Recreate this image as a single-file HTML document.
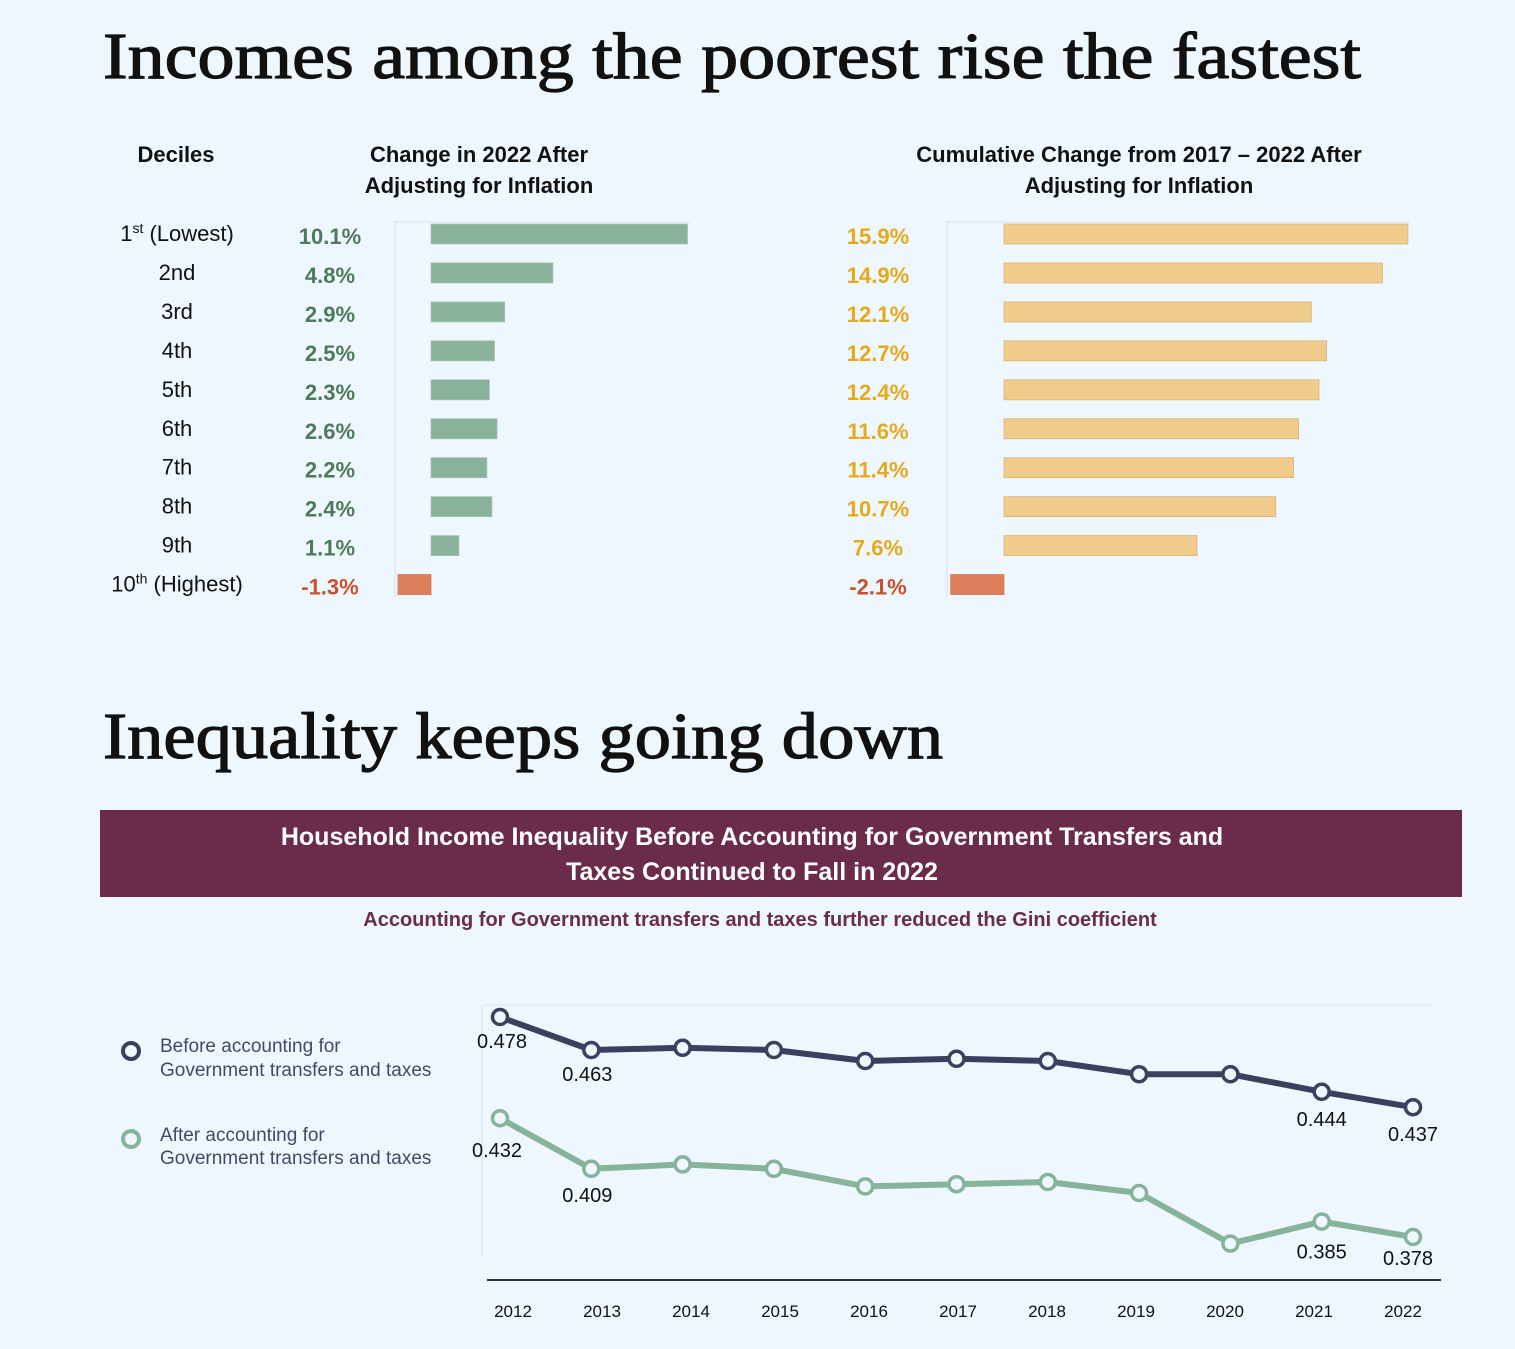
<!DOCTYPE html>
<html><head><meta charset="utf-8"><style>
html,body{margin:0;padding:0;background:#eef6fe;}
svg{display:block;font-family:"Liberation Sans",sans-serif;}
</style></head><body>
<svg width="1515" height="1349" viewBox="0 0 1515 1349" xmlns="http://www.w3.org/2000/svg">
<rect width="1515" height="1349" fill="#eef6fe"/>
<text x="103" y="78" font-family="Liberation Serif,serif" font-size="66" fill="#111" stroke="#111" stroke-width="1.2" textLength="1258" lengthAdjust="spacingAndGlyphs">Incomes among the poorest rise the fastest</text>
<text x="176" y="162" text-anchor="middle" font-size="22" font-weight="bold" fill="#111">Deciles</text>
<text x="479" y="162" text-anchor="middle" font-size="22" font-weight="bold" fill="#111">Change in 2022 After</text>
<text x="479" y="193" text-anchor="middle" font-size="22" font-weight="bold" fill="#111">Adjusting for Inflation</text>
<text x="1139" y="162" text-anchor="middle" font-size="22" font-weight="bold" fill="#111">Cumulative Change from 2017 – 2022 After</text>
<text x="1139" y="193" text-anchor="middle" font-size="22" font-weight="bold" fill="#111">Adjusting for Inflation</text>
<line x1="395" y1="222" x2="395" y2="597" stroke="#d8e2ec"/>
<line x1="395" y1="222" x2="690" y2="222" stroke="#d8e2ec"/>
<line x1="947" y1="222" x2="947" y2="597" stroke="#d8e2ec"/>
<line x1="947" y1="222" x2="1410" y2="222" stroke="#d8e2ec"/>
<g id="bars"></g>
<text x="103" y="758" font-family="Liberation Serif,serif" font-size="66" fill="#111" stroke="#111" stroke-width="1.2" textLength="840" lengthAdjust="spacingAndGlyphs">Inequality keeps going down</text>
<rect x="100" y="810" width="1362" height="87" fill="#6b2c4c"/>
<text x="752" y="845" text-anchor="middle" font-size="25" font-weight="bold" fill="#fff">Household Income Inequality Before Accounting for Government Transfers and</text>
<text x="752" y="880" text-anchor="middle" font-size="25" font-weight="bold" fill="#fff">Taxes Continued to Fall in 2022</text>
<text x="760" y="926" text-anchor="middle" font-size="20" font-weight="bold" fill="#6b2c4c">Accounting for Government transfers and taxes further reduced the Gini coefficient</text>
<circle cx="131" cy="1051" r="8" fill="#eef6fe" stroke="#3d3f5e" stroke-width="4"/>
<text x="160" y="1052" font-size="19" fill="#444a66">Before accounting for</text>
<text x="160" y="1076" font-size="19" fill="#444a66">Government transfers and taxes</text>
<circle cx="131" cy="1139" r="8" fill="#eef6fe" stroke="#86b39a" stroke-width="4"/>
<text x="160" y="1141" font-size="19" fill="#444a66">After accounting for</text>
<text x="160" y="1164" font-size="19" fill="#444a66">Government transfers and taxes</text>
<line x1="482" y1="1005" x2="482" y2="1257" stroke="#d8e2ec"/>
<line x1="482" y1="1005" x2="1432" y2="1005" stroke="#dde6ee"/>
<line x1="487" y1="1280" x2="1441" y2="1280" stroke="#333" stroke-width="2"/>
<g id="lines"></g>
</svg>
<script>
const deciles=["1st (Lowest)","2nd","3rd","4th","5th","6th","7th","8th","9th","10th (Highest)"];
const change2022=[10.1,4.8,2.9,2.5,2.3,2.6,2.2,2.4,1.1,-1.3];
const cumulative=[15.9,14.9,12.1,12.7,12.4,11.6,11.4,10.7,7.6,-2.1];
const years=["2012","2013","2014","2015","2016","2017","2018","2019","2020","2021","2022"];
const before=[0.478,0.463,0.464,0.463,0.458,0.459,0.458,0.452,0.452,0.444,0.437];
const after=[0.432,0.409,0.411,0.409,0.401,0.402,0.403,0.398,0.375,0.385,0.378];
const beforeLabels=[0,1,9,10];
const afterLabels=[0,1,9,10];
const NS="http://www.w3.org/2000/svg";
function mk(tag,attrs,parent,text){const e=document.createElementNS(NS,tag);for(const k in attrs)e.setAttribute(k,attrs[k]);if(text!==undefined)e.textContent=text;parent.appendChild(e);return e;}
const bars=document.getElementById('bars');
const rowY=i=>234+i*38.95;
const pxPer=25.4;
const xL=v=>431+v*pxPer, xR=v=>1004+v*pxPer;
deciles.forEach((d,i)=>{
  const y=rowY(i);
  const m=d.match(/^(\d+)(st|nd|rd|th)(.*)$/);
  const t=mk('text',{x:177,y:y+7,'text-anchor':'middle','font-size':22,fill:'#111'},bars);
  
  
  if(i===0||i===9){
    mk('tspan',{},t,m[1]);mk('tspan',{dy:-8,'font-size':14},t,m[2]);mk('tspan',{dy:8},t,m[3]);
  } else t.textContent=d;
  const v=change2022[i];
  const lc=v<0?'#c9502a':'#4e7a5a';
  const l=mk('text',{x:330,y:y+10,'text-anchor':'middle','font-size':22,'font-weight':'bold',fill:lc},bars,v.toFixed(1)+'%');
  
  
  const b=mk('rect',{x:Math.min(xL(0),xL(v)),y:y-10,width:Math.abs(xL(v)-xL(0)),height:20,fill:v<0?'#dc7f5a':'#88b39a',stroke:v<0?'#d0785a':'#a9c4b2','stroke-width':0.8},bars);
  
  
  const c=cumulative[i];
  const cc=c<0?'#c9502a':'#e5a91b';
  const l2=mk('text',{x:878,y:y+10,'text-anchor':'middle','font-size':22,'font-weight':'bold',fill:cc},bars,c.toFixed(1)+'%');
  
  
  const b2=mk('rect',{x:Math.min(xR(0),xR(c)),y:y-10,width:Math.abs(xR(c)-xR(0)),height:20,fill:c<0?'#dc7f5a':'#f0cc8c',stroke:c<0?'#d0785a':'#d9b67a','stroke-width':0.8},bars);
  
  
});
const lines=document.getElementById('lines');
const px=i=>500+i*91.3;
const py=v=>1017+(0.478-v)*2200;
years.forEach((yr,i)=>{
  const t=mk('text',{x:513+i*89,y:1317,'text-anchor':'middle','font-size':17,fill:'#111'},lines,yr);
  
  
});
function series(vals,color,name,labelIdx,offsets){
  const p=mk('polyline',{points:vals.map((v,i)=>px(i)+','+py(v)).join(' '),fill:'none',stroke:color,'stroke-width':6,'stroke-linejoin':'round'},lines);
  
  
  vals.forEach((v,i)=>{
    const c=mk('circle',{cx:px(i),cy:py(v),r:7.5,fill:'#eef6fe',stroke:color,'stroke-width':3.5},lines);
    
    
  });
  labelIdx.forEach((i,k)=>{
    const o=offsets[k];
    const t=mk('text',{x:px(i)+o[0],y:py(vals[i])+o[1],'text-anchor':'middle','font-size':20,fill:'#111'},lines,vals[i].toFixed(3));
    
    
  });
}
series(before,'#3d3f5e','before',beforeLabels,[[2,31],[-4,31],[0,34],[0,34]]);
series(after,'#86b39a','after',afterLabels,[[-3,39],[-4,33],[0,37],[-5,28]]);
</script>
</body></html>
